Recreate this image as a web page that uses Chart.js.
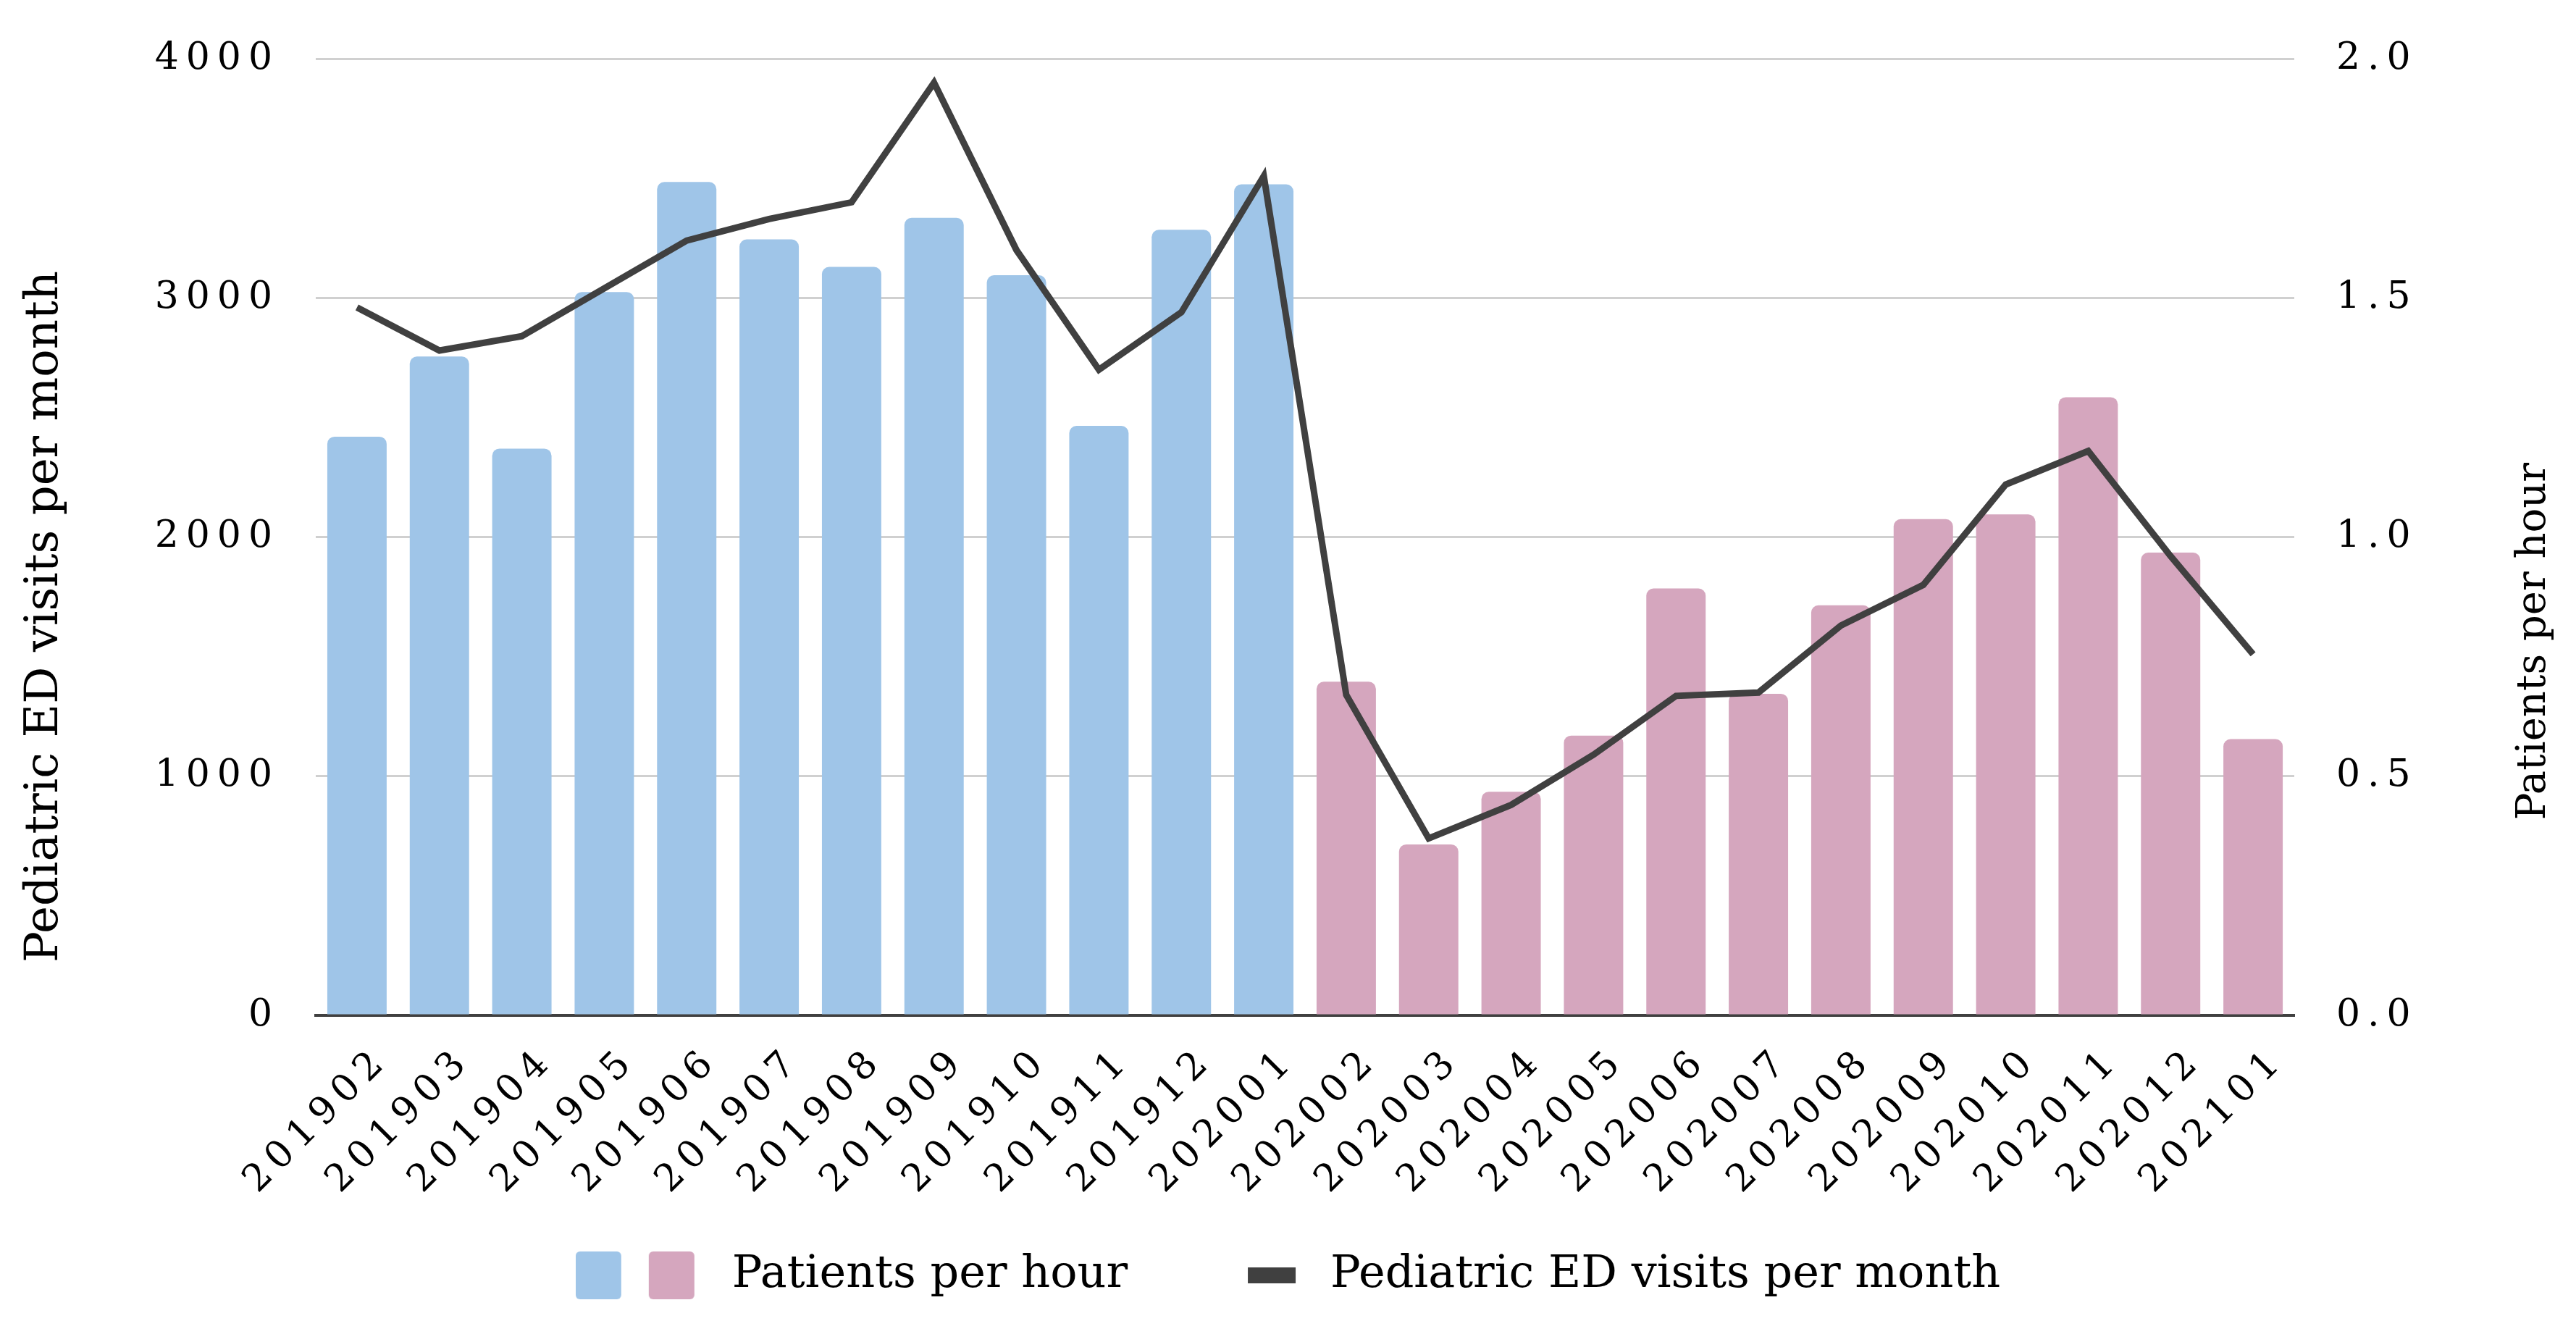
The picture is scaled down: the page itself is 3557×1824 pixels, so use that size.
<!DOCTYPE html>
<html>
<head>
<meta charset="utf-8">
<script src="https://cdn.jsdelivr.net/npm/chart.js@4.4.1/dist/chart.umd.min.js"></script>
<style>
  html, body { margin: 0; padding: 0; background: #fff; }
  canvas { display: block; }
</style>
</head>
<body>
<canvas id="edChart" width="3557" height="1824"></canvas>
<script>
// months on the x axis
const months = ['201902','201903','201904','201905','201906','201907','201908','201909','201910','201911','201912','202001',
                '202002','202003','202004','202005','202006','202007','202008','202009','202010','202011','202012','202101']
// bar heights, read against the left axis
const visits = [2420, 2755, 2370, 3025, 3485, 3245, 3130, 3335, 3095, 2465, 3285, 3475,
                1395, 715, 935, 1170, 1785, 1345, 1715, 2075, 2095, 2585, 1935, 1155]
// line, read against the right axis
const perHour = [1.48, 1.39, 1.42, 1.52, 1.62, 1.665, 1.70, 1.95, 1.60, 1.35, 1.47, 1.755,
                 0.67, 0.37, 0.44, 0.545, 0.668, 0.675, 0.815, 0.90, 1.11, 1.18, 0.96, 0.755]
const blueMonths = 12   // first 12 bars are blue, the rest pink
const leftTicks = [0, 1000, 2000, 3000, 4000]
const rightTicks = [0, 0.5, 1.0, 1.5, 2.0]

const barLegendText = 'Patients per hour'
const lineLegendText = 'Pediatric ED visits per month'
const leftTitle = 'Pediatric ED visits per month'
const rightTitle = 'Patients per hour'

const BLUE = '#9FC5E8', PINK = '#D5A6BE', DARK = '#404040'
const FONT = '"DejaVu Serif", "Liberation Serif", serif'

/*=============== LEGEND MARKERS ===============*/
const makeMarker = (draw) => {
  const c = document.createElement('canvas')
  c.width = 185
  c.height = 66
  draw(c.getContext('2d'))
  return c
}
const roundBox = (g, x, y, w, h, r, color) => {
  g.fillStyle = color
  g.beginPath()
  g.roundRect(x, y, w, h, r)
  g.fill()
}
const barMarker = makeMarker(g => {
  roundBox(g, 0, 0, 63, 66, 6, BLUE)
  roundBox(g, 101, 0, 63, 66, 6, PINK)
})
const lineMarker = makeMarker(g => {
  g.fillStyle = DARK
  g.fillRect(102, 22, 66, 22)
})

/*=============== TEXT PLUGIN ===============*/
// wide tick digits + axis titles that read bottom to top on both sides
const axisText = {
  id: 'axisText',
  beforeDatasetsDraw(chart) {
    chart.ctx.letterSpacing = '10px'
  },
  afterDraw(chart) {
    const {ctx, chartArea, width} = chart
    const mid = (chartArea.top + chartArea.bottom) / 2
    ctx.save()
    ctx.letterSpacing = '0px'
    ctx.fillStyle = '#000'
    ctx.textAlign = 'center'
    ctx.textBaseline = 'middle'

    ctx.save()
    ctx.font = '64px ' + FONT
    ctx.translate(62, mid + 110)
    ctx.rotate(-Math.PI / 2)
    ctx.fillText(leftTitle, 0, 0)
    ctx.restore()

    ctx.save()
    ctx.font = '56px ' + FONT
    ctx.translate(width - 58, mid + 144)
    ctx.rotate(-Math.PI / 2)
    ctx.fillText(rightTitle, 0, 0)
    ctx.restore()

    ctx.restore()
    ctx.letterSpacing = '0px'
  }
}

const tickFont = { family: FONT, size: 52 }

new Chart(document.getElementById('edChart'), {
  type: 'bar',
  data: {
    labels: months,
    datasets: [
      {
        type: 'line',
        label: lineLegendText,
        data: perHour,
        yAxisID: 'y1',
        borderColor: DARK,
        borderWidth: 9,
        pointRadius: 0,
        tension: 0,
        order: 0
      },
      {
        type: 'bar',
        label: barLegendText,
        data: visits,
        yAxisID: 'y',
        backgroundColor: months.map((m, i) => i < blueMonths ? BLUE : PINK),
        borderRadius: { topLeft: 10, topRight: 10 },
        borderSkipped: 'start',
        categoryPercentage: 1,
        barPercentage: 0.72,
        order: 1
      }
    ]
  },
  options: {
    responsive: false,
    devicePixelRatio: 1,
    animation: false,
    layout: { padding: { top: 68, right: 0, bottom: 22, left: 0 } },
    scales: {
      x: {
        grid: { color: 'rgba(0,0,0,0)', drawTicks: false },
        border: { color: DARK, width: 4 },
        ticks: { font: tickFont, color: '#000', minRotation: 45, maxRotation: 45, autoSkip: false, padding: 32, labelOffset: 36, z: 1 },
        afterFit: s => { s.height = 264 }
      },
      y: {
        position: 'left',
        min: 0,
        max: 4000,
        afterBuildTicks: s => { s.ticks = leftTicks.map(v => ({ value: v })) },
        grid: { color: '#D0D0D0', lineWidth: 3, drawTicks: false },
        border: { display: false },
        ticks: { font: tickFont, color: '#000', padding: 50, z: 1, callback: v => String(v) },
        afterFit: s => { s.width = 436 }
      },
      y1: {
        position: 'right',
        min: 0,
        max: 2,
        afterBuildTicks: s => { s.ticks = rightTicks.map(v => ({ value: v })) },
        grid: { display: false },
        border: { display: false },
        ticks: { font: tickFont, color: '#000', padding: 50, z: 1, callback: v => v.toFixed(1) },
        afterFit: s => { s.width = 389 }
      }
    },
    plugins: {
      legend: {
        position: 'bottom',
        labels: {
          font: { family: FONT, size: 62 },
          color: '#000',
          usePointStyle: true,
          pointStyleWidth: 185,
          boxHeight: 62,
          padding: 64,
          generateLabels: () => [
            { text: barLegendText, pointStyle: barMarker, fillStyle: BLUE, strokeStyle: BLUE, lineWidth: 0, hidden: false, datasetIndex: 1 },
            { text: lineLegendText, pointStyle: lineMarker, fillStyle: DARK, strokeStyle: DARK, lineWidth: 0, hidden: false, datasetIndex: 0 }
          ]
        }
      },
      tooltip: { enabled: false }
    }
  },
  plugins: [axisText]
})
</script>
</body>
</html>
